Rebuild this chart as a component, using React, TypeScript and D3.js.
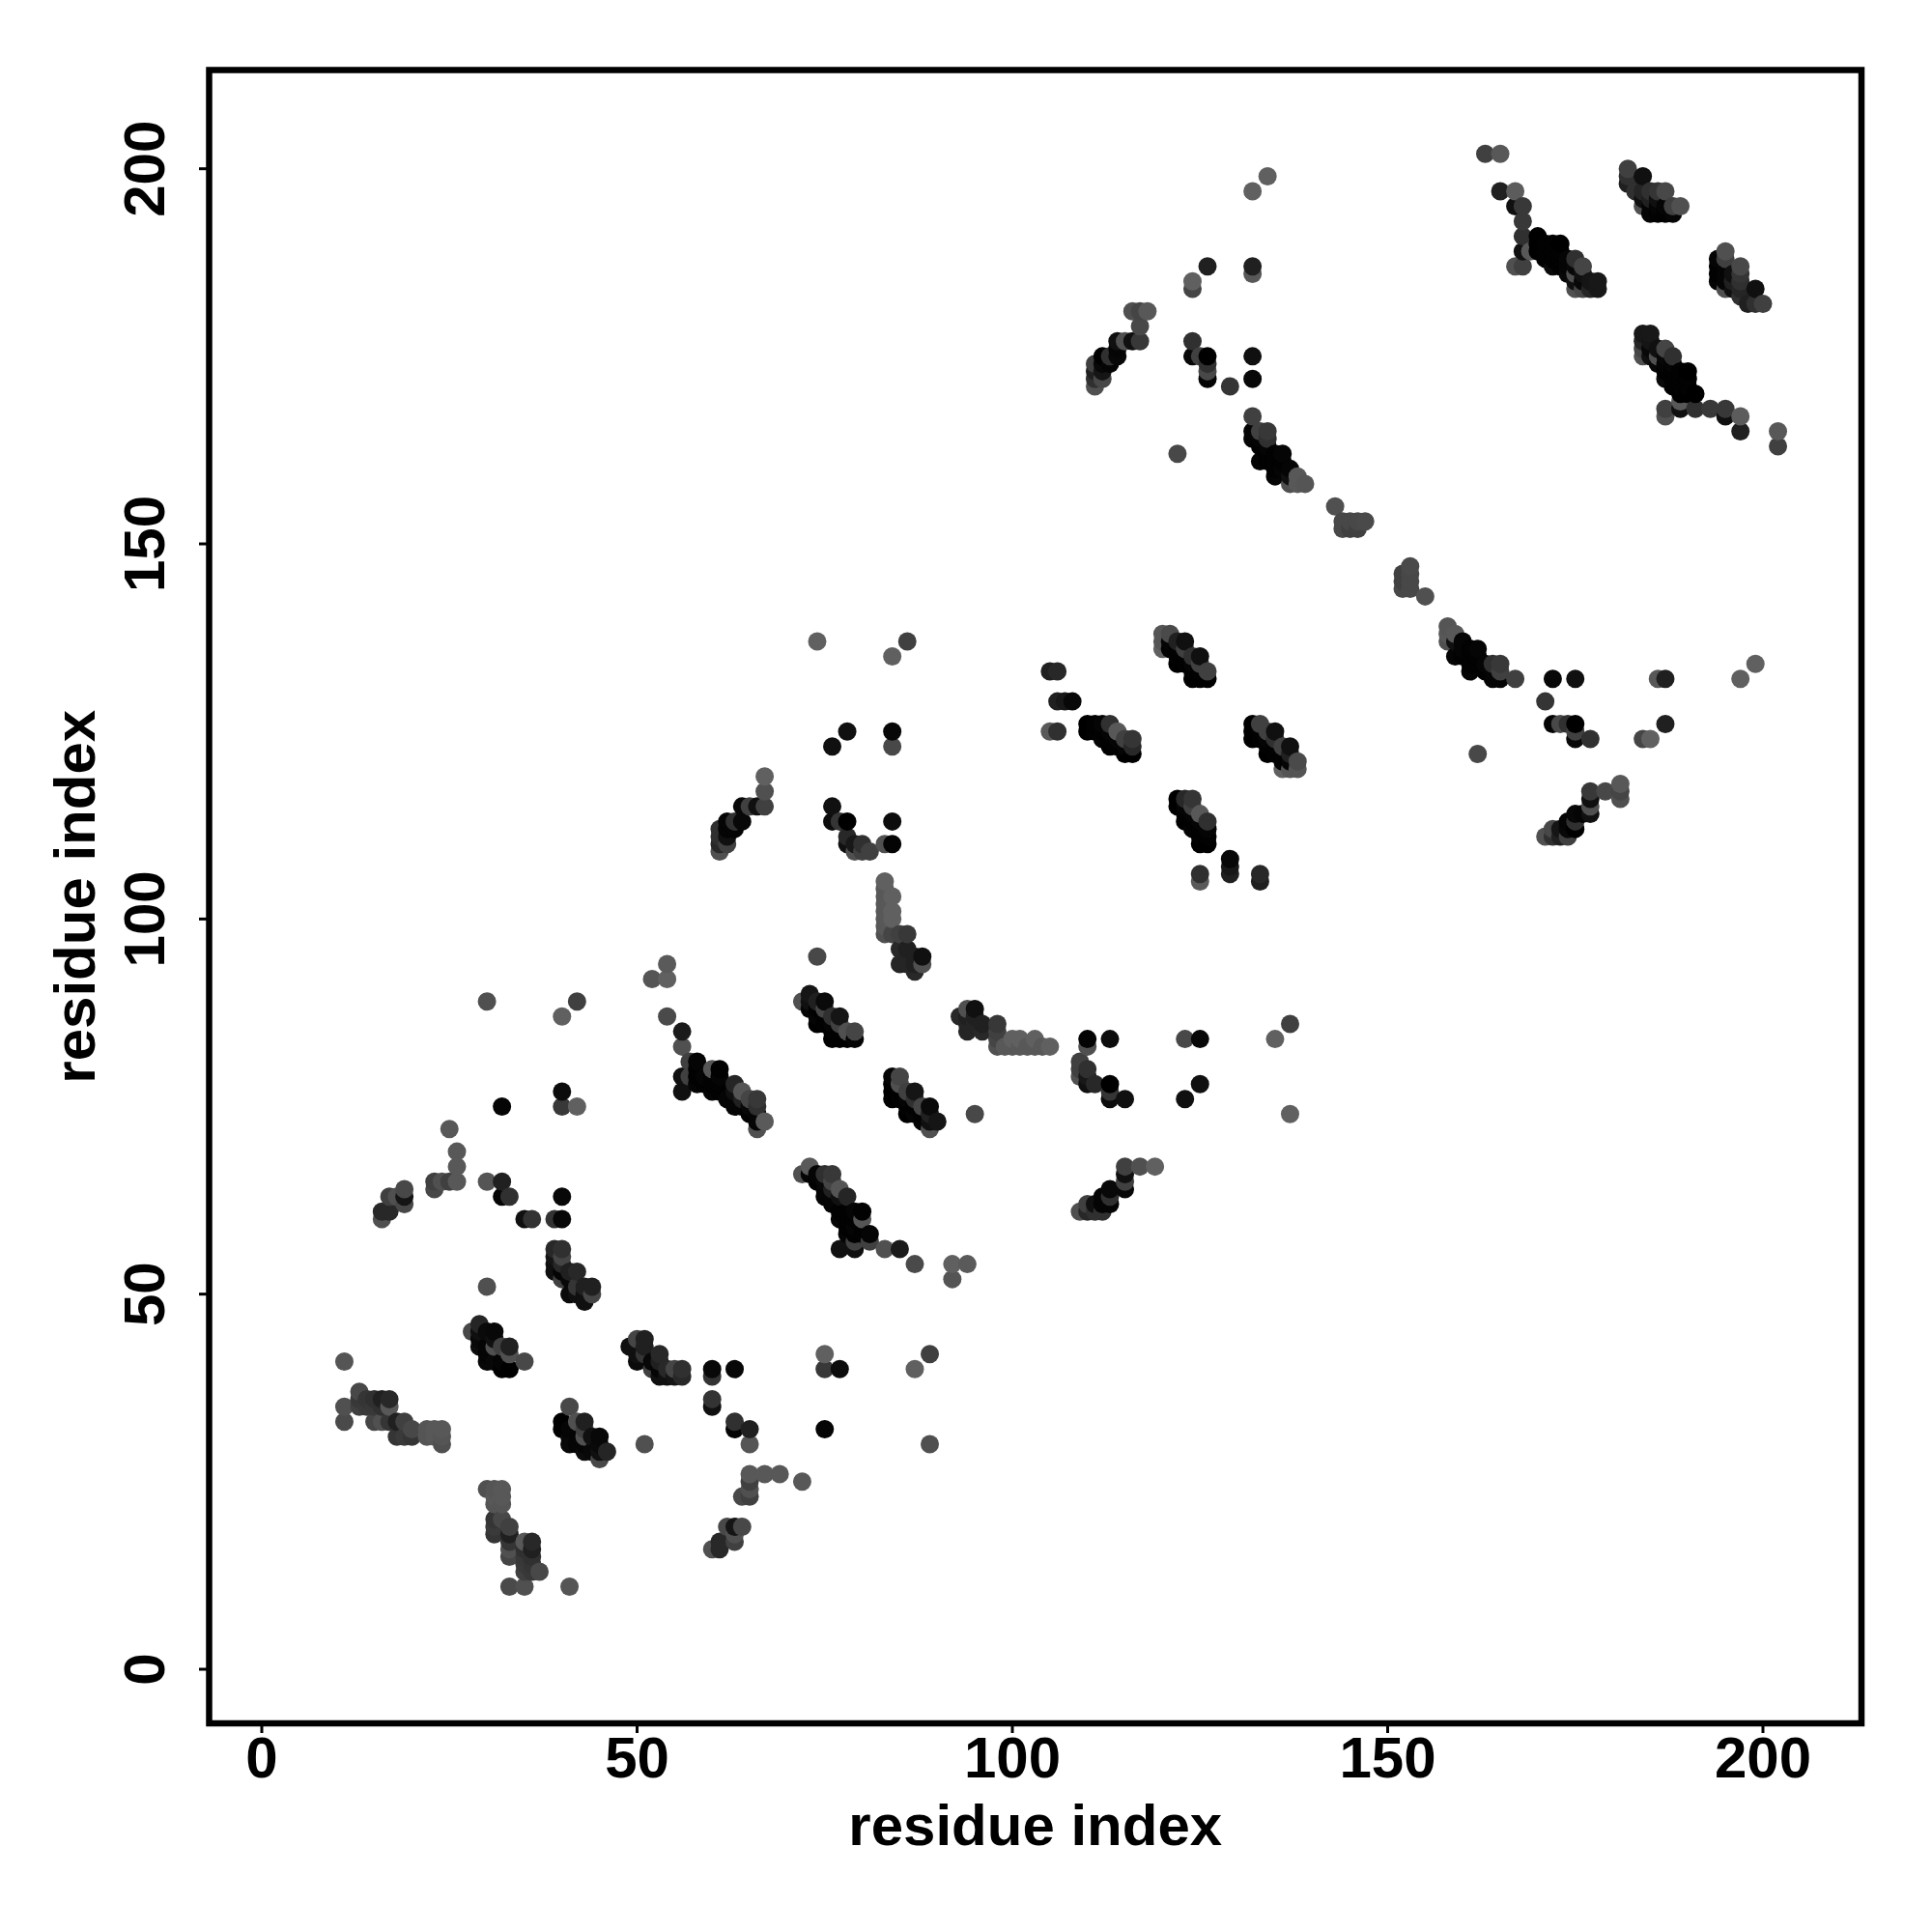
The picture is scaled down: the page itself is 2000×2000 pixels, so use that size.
import React from "react";
import * as d3 from "d3";

type Contact = [number, number, number];

// Contacts [residue i, residue j, grey level]; the map is symmetric so each is drawn at (i,j) and (j,i).
const loopA: Contact[] = [[11,33,0x4a],[11,35,0x50],[11,41,0x55],[13,35,0x40],[13,36,0x38],[13,37,0x48],[14,35,0x3a],[14,36,0x35],[15,33,0x45],[15,35,0x38],[15,36,0x30],[16,33,0x50],[16,35,0x30],[16,36,0x20],[17,33,0x35],[17,35,0x58],[17,36,0x28],[18,31,0x35],[18,33,0x20],[19,31,0x3a],[19,33,0x40],[20,31,0x35],[20,32,0x48],[22,31,0x55],[22,32,0x55],[23,31,0x58],[23,32,0x58],[24,30,0x50],[24,31,0x55],[24,32,0x58]];
const blockB: Contact[] = [[16,60,0x50],[16,61,0x28],[17,61,0x28],[17,63,0x40],[18,63,0x50],[19,62,0x48],[19,63,0x15],[19,64,0x48],[23,64,0x48],[23,65,0x40],[24,65,0x50],[25,65,0x40],[26,65,0x58],[26,67,0x58],[26,69,0x58],[25,72,0x58]];
const strandC: Contact[] = [[28,45,0x48],[29,43,0x0c],[29,44,0x08],[29,45,0x10],[29,46,0x25],[30,41,0x08],[30,42,0x05],[30,43,0x05],[30,45,0x0a],[31,41,0x08],[31,43,0x50],[31,44,0x10],[31,45,0x08],[32,40,0x00],[32,41,0x05],[32,43,0x40],[33,40,0x00],[33,42,0x50],[33,43,0x20],[35,41,0x48]];
const strandD: Contact[] = [[39,53,0x10],[39,54,0x10],[39,55,0x15],[39,56,0x28],[40,52,0x40],[40,53,0x05],[40,54,0x28],[40,55,0x45],[40,56,0x30],[41,50,0x0a],[41,52,0x08],[41,53,0x20],[42,50,0x10],[42,51,0x35],[42,53,0x28],[43,49,0x10],[43,50,0x10],[43,51,0x20],[44,50,0x45],[44,51,0x20]];
const singlesE: Contact[] = [[30,51,0x50],[30,65,0x55],[30,89,0x50],[32,63,0x05],[32,65,0x20],[32,75,0x05],[33,63,0x30],[35,60,0x10],[36,60,0x33],[39,60,0x33],[40,60,0x08],[40,63,0x08],[40,75,0x38],[40,77,0x0c],[40,87,0x60],[42,75,0x60],[42,89,0x40]];
const strandF: Contact[] = [[52,92,0x55],[54,87,0x4a],[54,92,0x60],[54,94,0x5a],[56,77,0x10],[56,79,0x10],[56,83,0x50],[56,85,0x1a],[57,79,0x40],[57,81,0x40],[58,78,0x05],[58,79,0x02],[58,80,0x02],[58,81,0x05],[59,78,0x02],[59,79,0x05],[60,77,0x05],[60,78,0x02],[60,79,0x02],[60,80,0x55],[61,77,0x02],[61,78,0x02],[61,79,0x05],[61,80,0x02],[62,76,0x05],[63,75,0x05],[63,76,0x05],[63,77,0x10],[63,78,0x25],[64,75,0x05],[64,76,0x20],[64,77,0x55],[65,74,0x02],[65,75,0x08],[65,76,0x45],[66,72,0x50],[66,73,0x05],[66,74,0x05],[66,75,0x30],[66,76,0x38],[67,73,0x5a]];
const strandG: Contact[] = [[61,109,0x50],[61,110,0x28],[61,111,0x30],[61,112,0x30],[62,110,0x40],[62,111,0x10],[62,112,0x05],[62,113,0x05],[63,112,0x05],[63,113,0x30],[64,113,0x08],[64,115,0x08],[65,115,0x40],[66,115,0x10],[67,115,0x40],[67,117,0x50],[67,119,0x60]];
const strandI: Contact[] = [[72,89,0x50],[73,88,0x05],[73,89,0x10],[73,90,0x15],[74,86,0x00],[74,87,0x05],[74,88,0x02],[74,89,0x20],[75,86,0x02],[75,87,0x02],[75,88,0x45],[75,89,0x0a],[76,84,0x00],[76,85,0x02],[76,86,0x05],[76,87,0x30],[77,84,0x00],[77,85,0x00],[77,86,0x40],[77,87,0x15],[78,84,0x00],[78,85,0x50],[79,84,0x05],[79,85,0x45]];
const singlesJ: Contact[] = [[74,95,0x48],[74,137,0x60],[76,113,0x0c],[76,115,0x10],[76,123,0x10],[77,113,0x35],[78,110,0x10],[78,111,0x28],[78,113,0x00],[78,125,0x10],[79,109,0x50],[79,110,0x18],[80,109,0x40],[80,110,0x30],[81,109,0x40],[83,110,0x50],[84,110,0x04],[84,113,0x0c],[84,123,0x48],[84,125,0x08],[84,135,0x60],[86,137,0x40]];
const helixK: Contact[] = [[83,98,0x50],[83,99,0x58],[83,100,0x58],[83,101,0x58],[83,102,0x58],[83,103,0x58],[83,104,0x58],[83,105,0x60],[84,98,0x45],[84,100,0x60],[84,101,0x60],[84,103,0x60],[85,94,0x25],[85,96,0x28],[85,98,0x40],[86,94,0x25],[86,95,0x25],[86,96,0x20],[86,98,0x38],[87,93,0x28],[87,94,0x20],[87,95,0x20],[88,94,0x50],[88,95,0x10]];
const strandL: Contact[] = [[105,125,0x5a],[105,133,0x20],[106,125,0x30],[106,129,0x20],[106,133,0x28],[107,129,0x18],[108,129,0x08],[110,125,0x00],[110,126,0x00],[111,125,0x02],[111,126,0x02],[112,124,0x05],[112,125,0x02],[112,126,0x05],[113,123,0x00],[113,124,0x02],[113,125,0x05],[113,126,0x30],[114,123,0x02],[114,124,0x05],[114,125,0x58],[115,122,0x00],[115,123,0x05],[115,124,0x40],[116,122,0x00],[116,123,0x28],[116,124,0x35]];
const strandM: Contact[] = [[120,136,0x60],[120,137,0x55],[120,138,0x55],[121,136,0x02],[121,137,0x05],[121,138,0x4a],[122,134,0x00],[122,135,0x02],[122,136,0x02],[122,137,0x20],[123,134,0x02],[123,135,0x02],[123,136,0x40],[123,137,0x10],[124,132,0x00],[124,133,0x02],[124,134,0x05],[124,135,0x30],[125,132,0x00],[125,133,0x02],[125,134,0x40],[125,135,0x10],[126,132,0x00],[126,133,0x40]];
const strandN: Contact[] = [[111,171,0x50],[111,172,0x30],[111,173,0x20],[111,174,0x40],[112,172,0x48],[112,173,0x15],[112,174,0x08],[112,175,0x00],[113,174,0x05],[113,175,0x30],[114,175,0x08],[114,176,0x05],[114,177,0x10],[115,177,0x50],[116,177,0x10],[116,181,0x50],[117,177,0x38],[117,179,0x48],[117,181,0x45],[118,181,0x58]];
const singlesO: Contact[] = [[122,162,0x48],[124,175,0x08],[124,177,0x30],[124,184,0x45],[124,185,0x60],[125,175,0x40],[126,172,0x05],[126,173,0x48],[126,174,0x30],[126,175,0x00],[126,187,0x20],[129,171,0x35],[132,172,0x08],[132,175,0x10],[132,186,0x58],[132,187,0x20],[132,197,0x60],[134,199,0x60]];
const strandP: Contact[] = [[132,164,0x05],[132,165,0x05],[132,167,0x40],[133,161,0x05],[133,163,0x02],[133,164,0x05],[133,165,0x40],[134,161,0x02],[134,162,0x02],[134,163,0x05],[134,164,0x30],[134,165,0x38],[135,159,0x05],[135,160,0x02],[135,161,0x02],[135,162,0x02],[136,160,0x05],[136,161,0x02],[136,162,0x05],[137,158,0x50],[137,159,0x10],[137,160,0x05],[138,158,0x58],[138,159,0x58],[139,158,0x55]];
const loopQ: Contact[] = [[143,155,0x50],[144,152,0x48],[144,153,0x48],[145,152,0x40],[145,153,0x48],[146,152,0x40],[146,153,0x48],[147,153,0x4a]];
const strandR: Contact[] = [[163,202,0x40],[165,197,0x20],[165,202,0x58],[167,187,0x50],[167,195,0x10],[167,197,0x5c],[168,187,0x40],[168,189,0x10],[168,191,0x30],[168,193,0x38],[168,195,0x38],[169,189,0x58],[170,189,0x00],[170,190,0x00],[170,191,0x00],[171,188,0x02],[171,189,0x02],[171,190,0x02],[172,187,0x0a],[172,188,0x02],[172,189,0x02],[172,190,0x02],[173,187,0x02],[173,188,0x02],[173,189,0x02],[173,190,0x00],[174,186,0x08],[174,187,0x05],[174,188,0x05],[175,184,0x50],[175,185,0x10],[175,186,0x50],[175,187,0x08],[175,188,0x30],[176,184,0x45],[176,185,0x08],[176,186,0x10],[176,187,0x45],[177,184,0x25],[177,185,0x15],[178,184,0x18],[178,185,0x18]];
const strandS: Contact[] = [[182,198,0x20],[182,199,0x30],[182,200,0x40],[183,197,0x30],[184,195,0x50],[184,196,0x10],[184,197,0x25],[184,199,0x10],[185,194,0x05],[185,195,0x05],[185,196,0x20],[185,197,0x30],[186,194,0x02],[186,195,0x05],[186,196,0x10],[186,197,0x35],[187,194,0x02],[187,195,0x05],[187,197,0x48],[188,194,0x05],[188,195,0x40],[189,195,0x50]];

const contacts: Contact[] = [loopA, blockB, strandC, strandD, singlesE, strandF, strandG, strandI, singlesJ, helixK, strandL, strandM, strandN, singlesO, strandP, loopQ, strandR, strandS].flat();

const tickValues = [0, 50, 100, 150, 200];
const axisTitle = "residue index";

const frame = { left: 216.5, right: 1927, top: 72.5, bottom: 1784 };
const font = "'Liberation Sans', Arial, sans-serif";

export default function App() {
  const x = d3.scaleLinear().domain([0, 200]).range([271, 1825]);
  const y = d3.scaleLinear().domain([0, 200]).range([1728, 174.7]);

  const points = contacts
    .flatMap(([i, j, g]) => [
      { px: i, py: j, g },
      { px: j, py: i, g },
    ])
    .sort((a, b) => d3.ascending(a.px, b.px) || d3.ascending(a.py, b.py));

  const textStyle = { fontFamily: font, fontWeight: 700, fontSize: 60, fill: "#000" };

  return (
    <svg
      width={2000}
      height={2000}
      viewBox="0 0 2000 2000"
      style={{ position: "absolute", left: 0, top: 0, display: "block", background: "#fff" }}
    >
      {points.map((p, k) => (
        <circle key={k} cx={x(p.px)} cy={y(p.py)} r={9.5} fill={d3.rgb(p.g, p.g, p.g).formatHex()} />
      ))}
      <rect
        x={frame.left}
        y={frame.top}
        width={frame.right - frame.left}
        height={frame.bottom - frame.top}
        fill="none"
        stroke="#000"
        strokeWidth={6.5}
      />
      {tickValues.map((t) => (
        <g key={t}>
          <line x1={x(t)} x2={x(t)} y1={frame.bottom} y2={1794} stroke="#000" strokeWidth={3} />
          <text x={x(t)} y={1840} textAnchor="middle" style={textStyle}>{t}</text>
          <line x1={206} x2={frame.left} y1={y(t)} y2={y(t)} stroke="#000" strokeWidth={3} />
          <text transform={`translate(170,${y(t)}) rotate(-90)`} textAnchor="middle" style={textStyle}>{t}</text>
        </g>
      ))}
      <text x={(frame.left + frame.right) / 2} y={1910} textAnchor="middle" style={textStyle}>{axisTitle}</text>
      <text
        transform={`translate(98,${(frame.top + frame.bottom) / 2}) rotate(-90)`}
        textAnchor="middle"
        style={textStyle}
      >
        {axisTitle}
      </text>
    </svg>
  );
}
